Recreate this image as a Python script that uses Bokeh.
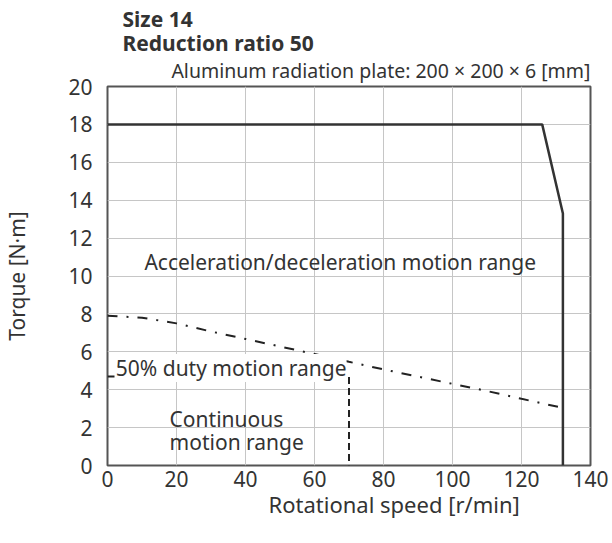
import math
from bokeh.plotting import figure
from bokeh.models import Label, FixedTicker, Range1d, Title
from bokeh.embed import file_html
from bokeh.resources import INLINE

# ---- data ----
x_ticks = [0, 20, 40, 60, 80, 100, 120, 140]
y_ticks = [0, 2, 4, 6, 8, 10, 12, 14, 16, 18, 20]

accel_speed = [0, 126, 132, 132]
accel_torque = [18, 18, 13.3, 0]

duty_speed = [0, 10, 20, 30, 40, 50, 60, 70, 80, 90, 100, 110, 120, 132]
duty_torque = [7.9, 7.8, 7.5, 7.07, 6.68, 6.28, 5.88, 5.47, 5.07, 4.69, 4.31, 3.93, 3.52, 3.04]

cont_speed = [0, 70, 70]
cont_torque = [4.7, 4.7, 0]

title1 = "Size 14"
title2 = "Reduction ratio 50"
subtitle = "Aluminum radiation plate: 200 × 200 × 6 [mm]"
x_title = "Rotational speed [r/min]"
y_title = "Torque [N·m]"
accel_text = "Acceleration/deceleration motion range"
duty_text = "50% duty motion range"
cont_text = ["Continuous", "motion range"]

FONT = "Noto Sans"
TXT = "#333333"

p = figure(width=612, height=543, output_backend="svg", toolbar_location=None,
           title=None,
           x_range=Range1d(0, 140), y_range=Range1d(0, 20),
           min_border_left=106, min_border_right=22, min_border_top=86, min_border_bottom=78)
p.background_fill_color = "white"
p.border_fill_color = "white"
p.outline_line_color = "#555555"
p.outline_line_width = 2

for ax in (p.xaxis[0], p.yaxis[0]):
    ax.axis_line_color = None
    ax.major_tick_line_color = None
    ax.minor_tick_line_color = None
    ax.major_label_text_font = FONT
    ax.major_label_text_font_size = "21px"
    ax.major_label_text_color = TXT
p.xaxis.ticker = FixedTicker(ticks=x_ticks)
p.yaxis.ticker = FixedTicker(ticks=y_ticks)
p.xaxis.major_label_standoff = -1
p.yaxis.major_label_standoff = 9

p.yaxis.axis_label = y_title
p.yaxis.axis_label_text_font = FONT
p.yaxis.axis_label_text_font_size = "21px"
p.yaxis.axis_label_text_font_style = "normal"
p.yaxis.axis_label_text_color = TXT
p.yaxis.axis_label_standoff = 34

p.xgrid.ticker = FixedTicker(ticks=x_ticks)
p.ygrid.ticker = FixedTicker(ticks=y_ticks)
p.grid.grid_line_color = "#c6c6c6"
p.grid.grid_line_width = 1

# titles (first added sits closest to the frame)
p.add_layout(Title(text=subtitle, align="right", offset=0, standoff=6,
                   text_font=FONT, text_font_size="19.5px", text_font_style="normal",
                   text_color=TXT), "above")
p.add_layout(Title(text=title2, align="left", offset=15, standoff=-11,
                   text_font=FONT, text_font_size="21px", text_font_style="bold",
                   text_color=TXT), "above")
p.add_layout(Title(text=title1, align="left", offset=15, standoff=-1,
                   text_font=FONT, text_font_size="21px", text_font_style="bold",
                   text_color=TXT), "above")
p.add_layout(Title(text=x_title, align="left", offset=161, standoff=-5,
                   text_font=FONT, text_font_size="22px", text_font_style="normal",
                   text_color=TXT), "below")

# ranges
p.line(accel_speed, accel_torque, line_color="#333333", line_width=2.5)
p.line(duty_speed, duty_torque, line_color="#222222", line_width=2, line_dash="10 9 2 9")
p.line(cont_speed, cont_torque, line_color="#222222", line_width=2, line_dash="7 4")

def lab(x, y, t, size="21px", bg=None):
    l = Label(x=x, y=y, text=t, text_font=FONT, text_font_size=size, text_color=TXT,
              text_align="left", text_baseline="alphabetic")
    if bg:
        l.background_fill_color = bg
        l.padding = 0
    p.add_layout(l)

lab(10.7, 10.72, accel_text)
lab(2.4, 5.15, duty_text, bg="white")
lab(18.0, 2.47, cont_text[0])
lab(18.0, 1.26, cont_text[1])

open("out.html", "w").write(file_html(p, INLINE))
